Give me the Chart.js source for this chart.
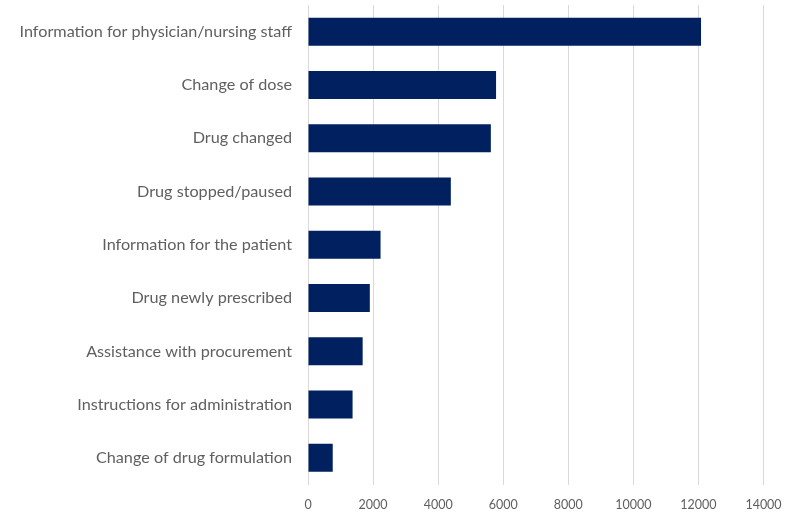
<!DOCTYPE html>
<html>
<head>
<meta charset="utf-8">
<script src="https://cdn.jsdelivr.net/npm/chart.js@4"></script>
<style>
  html, body { margin: 0; padding: 0; background: #fff; }
  canvas { display: block; }
</style>
</head>
<body>
<canvas id="grafico" width="786" height="514"></canvas>
<script>
// --- datos ---
const categorias = [
    'Information for physician/nursing staff',
    'Change of dose',
    'Drug changed',
    'Drug stopped/paused',
    'Information for the patient',
    'Drug newly prescribed',
    'Assistance with procurement',
    'Instructions for administration',
    'Change of drug formulation'
];
const valores = [12080, 5780, 5620, 4390, 2230, 1900, 1680, 1370, 760];
const ejeMax = 14000;
const ejePaso = 2000;

const gris = '#5f5f5f';
const rejilla = '#d9d9d9';

// quitar el relleno automatico que cada eje pide para sus etiquetas
function sinRelleno(s) {
    s.paddingTop = 0;
    s.paddingBottom = 0;
    s.paddingLeft = 0;
    s.paddingRight = 0;
}

new Chart(document.getElementById('grafico').getContext('2d'), {
    type: 'bar',
    data: {
        labels: categorias,
        datasets: [{
            data: valores,
            backgroundColor: '#002060',
            borderWidth: 0,
            barPercentage: 0.526,
            categoryPercentage: 1
        }]
    },
    options: {
        indexAxis: 'y',
        responsive: false,
        animation: false,
        layout: { padding: { top: 5, right: 22.5, left: 0, bottom: 0 } },
        plugins: { legend: { display: false }, tooltip: { enabled: false } },
        scales: {
            x: {
                min: 0,
                max: ejeMax,
                grid: { color: rejilla, drawTicks: false },
                border: { display: false },
                ticks: {
                    stepSize: ejePaso,
                    padding: 13,
                    color: gris,
                    font: { family: 'Lato', size: 12.5 },
                    callback: (v) => String(v)
                },
                afterFit: (s) => { s.height = 29.5; sinRelleno(s); }
            },
            y: {
                grid: { display: false, drawTicks: false },
                border: { display: false },
                ticks: {
                    padding: 16,
                    color: gris,
                    font: { family: 'Lato', size: 16.2 }
                },
                afterFit: (s) => { s.width = 308; sinRelleno(s); }
            }
        }
    }
});
</script>
</body>
</html>
